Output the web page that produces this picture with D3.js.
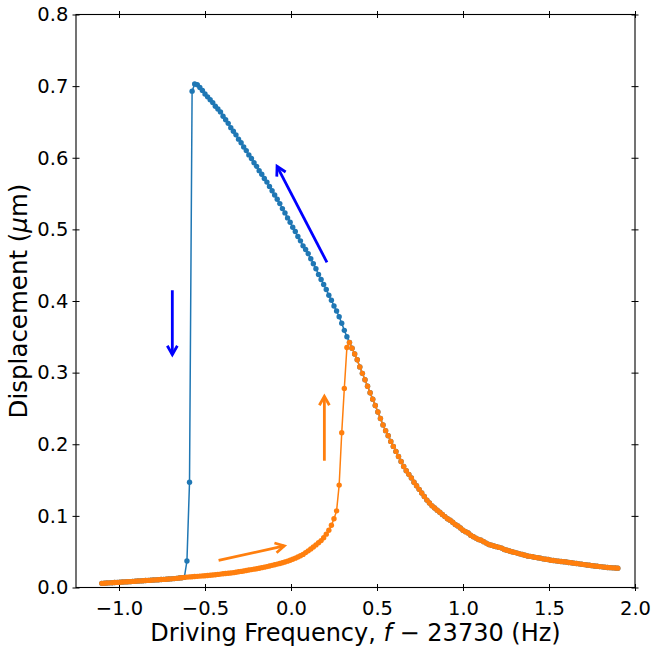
<!DOCTYPE html>
<html>
<head>
<meta charset="utf-8">
<script src="https://cdn.jsdelivr.net/npm/d3@7"></script>
<style>
  body { margin: 0; background: #fff; }
  text { font-family: "DejaVu Sans", sans-serif; }
</style>
</head>
<body>
<script>
// driving frequency, f - 23730 (Hz)
const freq = [
  -1.1, -1.085, -1.07, -1.055, -1.04, -1.025, -1.01, -0.995, -0.98, -0.965,
  -0.95, -0.935, -0.92, -0.905, -0.89, -0.875, -0.86, -0.845, -0.83, -0.815,
  -0.8, -0.785, -0.77, -0.755, -0.74, -0.725, -0.71, -0.695, -0.68, -0.665,
  -0.65, -0.635, -0.62, -0.605, -0.59, -0.575, -0.56, -0.545, -0.53, -0.515,
  -0.5, -0.485, -0.47, -0.455, -0.44, -0.425, -0.41, -0.395, -0.38, -0.365,
  -0.35, -0.335, -0.32, -0.305, -0.29, -0.275, -0.26, -0.245, -0.23, -0.215,
  -0.2, -0.185, -0.17, -0.155, -0.14, -0.125, -0.11, -0.095, -0.08, -0.065,
  -0.05, -0.035, -0.02, -0.005, 0.01, 0.025, 0.04, 0.055, 0.07, 0.085,
  0.1, 0.115, 0.13, 0.145, 0.16, 0.175, 0.19, 0.205, 0.22, 0.235,
  0.25, 0.265, 0.28, 0.295, 0.31, 0.325, 0.34, 0.355, 0.37, 0.385,
  0.4, 0.415, 0.43, 0.445, 0.46, 0.475, 0.49, 0.505, 0.52, 0.535,
  0.55, 0.565, 0.58, 0.595, 0.61, 0.625, 0.64, 0.655, 0.67, 0.685,
  0.7, 0.715, 0.73, 0.745, 0.76, 0.775, 0.79, 0.805, 0.82, 0.835,
  0.85, 0.865, 0.88, 0.895, 0.91, 0.925, 0.94, 0.955, 0.97, 0.985,
  1.0, 1.015, 1.03, 1.045, 1.06, 1.075, 1.09, 1.105, 1.12, 1.135,
  1.15, 1.165, 1.18, 1.195, 1.21, 1.225, 1.24, 1.255, 1.27, 1.285,
  1.3, 1.315, 1.33, 1.345, 1.36, 1.375, 1.39, 1.405, 1.42, 1.435,
  1.45, 1.465, 1.48, 1.495, 1.51, 1.525, 1.54, 1.555, 1.57, 1.585,
  1.6, 1.615, 1.63, 1.645, 1.66, 1.675, 1.69, 1.705, 1.72, 1.735,
  1.75, 1.765, 1.78, 1.795, 1.81, 1.825, 1.84, 1.855, 1.87, 1.885,
  1.9
];

// downward sweep (um), listed in order of increasing frequency
const blueDisp = [
  0.0058, 0.0060, 0.0062, 0.0065, 0.0067, 0.0069, 0.0071, 0.0073, 0.0076, 0.0078,
  0.0080, 0.0082, 0.0085, 0.0087, 0.0090, 0.0092, 0.0094, 0.0097, 0.0099, 0.0102,
  0.0104, 0.0106, 0.0109, 0.0111, 0.0113, 0.0116, 0.0118, 0.0121, 0.0124, 0.0128,
  0.0132, 0.0137, 0.0142,
  0.037, 0.147, 0.693,
  0.703, 0.702, 0.698, 0.694,
  0.689, 0.685, 0.681, 0.677, 0.672, 0.668, 0.664, 0.658, 0.653, 0.648,
  0.642, 0.637, 0.632, 0.626, 0.621, 0.615, 0.610, 0.604, 0.599, 0.593,
  0.588, 0.582, 0.577, 0.571, 0.566, 0.560, 0.554, 0.548, 0.542, 0.536,
  0.529, 0.523, 0.516, 0.510, 0.503, 0.497, 0.490, 0.484, 0.477, 0.472,
  0.466, 0.459, 0.452, 0.445, 0.437, 0.430, 0.423, 0.416, 0.408, 0.401,
  0.393, 0.386, 0.378, 0.369, 0.359, 0.350, 0.342, 0.334, 0.326, 0.318,
  0.308, 0.299, 0.290, 0.281, 0.272, 0.263, 0.254, 0.245, 0.236, 0.227,
  0.219, 0.212, 0.204, 0.197, 0.190, 0.183, 0.176, 0.169, 0.163, 0.158,
  0.153, 0.147, 0.142, 0.137, 0.132, 0.127, 0.122, 0.118, 0.114, 0.111,
  0.108, 0.105, 0.102, 0.099, 0.096, 0.094, 0.091, 0.088, 0.086, 0.083,
  0.080, 0.078, 0.076, 0.073, 0.071, 0.069, 0.067, 0.066, 0.064, 0.062,
  0.060, 0.059, 0.058, 0.057, 0.056, 0.055, 0.053, 0.052, 0.051, 0.050,
  0.049, 0.048, 0.047, 0.046, 0.045, 0.044, 0.0435, 0.043, 0.042, 0.0415,
  0.041, 0.040, 0.0395, 0.039, 0.038, 0.0376, 0.0372, 0.0368, 0.0364, 0.036,
  0.0355, 0.035, 0.0345, 0.034, 0.0335, 0.033, 0.0325, 0.032, 0.0315, 0.031,
  0.0305, 0.030, 0.0296, 0.0292, 0.0288, 0.0284, 0.028, 0.0277, 0.0274, 0.0272,
  0.027
];

// upward sweep (um)
const orangeDisp = [
  0.0058, 0.0060, 0.0062, 0.0065, 0.0067, 0.0069, 0.0071, 0.0073, 0.0076, 0.0078,
  0.0080, 0.0082, 0.0085, 0.0087, 0.0090, 0.0092, 0.0094, 0.0097, 0.0099, 0.0102,
  0.0104, 0.0106, 0.0109, 0.0111, 0.0113, 0.0116, 0.0118, 0.0121, 0.0124, 0.0128,
  0.0132, 0.0137, 0.0142, 0.0145, 0.0148, 0.0151, 0.0154, 0.0156, 0.0159, 0.0162,
  0.0165, 0.0168, 0.0172, 0.0175, 0.0179, 0.0183, 0.0187, 0.0191, 0.0195, 0.0198,
  0.0202, 0.0207, 0.0213, 0.0219, 0.0225, 0.0231, 0.0238, 0.0244, 0.0250, 0.0256,
  0.0262, 0.0269, 0.0277, 0.0284, 0.0292, 0.0300, 0.0309, 0.0318, 0.0327, 0.0336,
  0.0345, 0.0356, 0.0368, 0.0381, 0.0395, 0.0410, 0.0426, 0.0443, 0.0462, 0.0487,
  0.0512, 0.0538, 0.0565, 0.0595, 0.0625, 0.0655, 0.0695, 0.0745, 0.0800,
  0.087, 0.096, 0.107, 0.143, 0.216, 0.278, 0.335, 0.342,
  0.334, 0.326, 0.318,
  0.308, 0.299, 0.290, 0.281, 0.272, 0.263, 0.254, 0.245, 0.236, 0.227,
  0.219, 0.212, 0.204, 0.197, 0.190, 0.183, 0.176, 0.169, 0.163, 0.158,
  0.153, 0.147, 0.142, 0.137, 0.132, 0.127, 0.122, 0.118, 0.114, 0.111,
  0.108, 0.105, 0.102, 0.099, 0.096, 0.094, 0.091, 0.088, 0.086, 0.083,
  0.080, 0.078, 0.076, 0.073, 0.071, 0.069, 0.067, 0.066, 0.064, 0.062,
  0.060, 0.059, 0.058, 0.057, 0.056, 0.055, 0.053, 0.052, 0.051, 0.050,
  0.049, 0.048, 0.047, 0.046, 0.045, 0.044, 0.0435, 0.043, 0.042, 0.0415,
  0.041, 0.040, 0.0395, 0.039, 0.038, 0.0376, 0.0372, 0.0368, 0.0364, 0.036,
  0.0355, 0.035, 0.0345, 0.034, 0.0335, 0.033, 0.0325, 0.032, 0.0315, 0.031,
  0.0305, 0.030, 0.0296, 0.0292, 0.0288, 0.0284, 0.028, 0.0277, 0.0274, 0.0272,
  0.027
];

const xTicks = [-1.0, -0.5, 0.0, 0.5, 1.0, 1.5, 2.0];
const yTicks = [0.0, 0.1, 0.2, 0.3, 0.4, 0.5, 0.6, 0.7, 0.8];

// sweep-direction arrows, [tail, head] in data units
const arrowBlueUp = [[0.209, 0.454], [-0.081, 0.588]];
const arrowBlueDown = [[-0.69, 0.415], [-0.69, 0.325]];
const arrowOrangeUp = [[0.194, 0.177], [0.194, 0.267]];
const arrowOrangeRight = [[-0.421, 0.038], [-0.039, 0.058]];

// figure layout
const W = 651, H = 648;
const pl = 76, pr = 635, pt = 14.5, pb = 587.5;
const tickLen = 3.5;

const x = d3.scaleLinear().domain([-1.25, 2.0]).range([pl, pr]);
const y = d3.scaleLinear().domain([0, 0.8]).range([pb, pt]);

const svg = d3.select('body').append('svg')
  .attr('width', W)
  .attr('height', H);

const fmt = d3.format('.1f');

function crossTicks(g, horiz) {
  g.select('.domain').remove();
  g.selectAll('.tick line')
    .attr(horiz ? 'y1' : 'x1', -tickLen)
    .attr(horiz ? 'y2' : 'x2', tickLen)
    .attr('stroke', '#000');
  g.selectAll('.tick text')
    .attr('fill', '#000')
    .style('font-size', '19.5px');
}

svg.append('g')
  .attr('transform', `translate(0,${pb})`)
  .call(d3.axisBottom(x).tickValues(xTicks).tickFormat(fmt).tickSize(tickLen).tickPadding(10.5))
  .call(g => crossTicks(g, true));

svg.append('g')
  .attr('transform', `translate(0,${pt})`)
  .call(d3.axisTop(x).tickValues(xTicks).tickFormat('').tickSize(tickLen))
  .call(g => crossTicks(g, true));

svg.append('g')
  .attr('transform', `translate(${pl},0)`)
  .call(d3.axisLeft(y).tickValues(yTicks).tickFormat(fmt).tickSize(tickLen).tickPadding(4.2))
  .call(g => crossTicks(g, false));

svg.append('g')
  .attr('transform', `translate(${pr},0)`)
  .call(d3.axisRight(y).tickValues(yTicks).tickFormat('').tickSize(tickLen))
  .call(g => crossTicks(g, false));

// frame
svg.append('rect')
  .attr('x', pl)
  .attr('y', pt)
  .attr('width', pr - pl)
  .attr('height', pb - pt)
  .attr('fill', 'none')
  .attr('stroke', '#000')
  .attr('stroke-width', 1.1);

function drawSeries(vals, color) {
  const pts = vals.map((v, i) => [freq[i], v]);
  const line = d3.line().x(d => x(d[0])).y(d => y(d[1]));
  svg.append('path')
    .datum(pts)
    .attr('d', line)
    .attr('fill', 'none')
    .attr('stroke', color)
    .attr('stroke-width', 1.5);
  svg.append('g')
    .selectAll('circle')
    .data(pts)
    .enter()
    .append('circle')
    .attr('cx', d => x(d[0]))
    .attr('cy', d => y(d[1]))
    .attr('r', 2.7)
    .attr('fill', color);
}

drawSeries(blueDisp, '#1f77b4');
drawSeries(orangeDisp, '#ff7f0e');

function drawArrow(a, color) {
  const x0 = x(a[0][0]), y0 = y(a[0][1]);
  const x1 = x(a[1][0]), y1 = y(a[1][1]);
  const ang = Math.atan2(y1 - y0, x1 - x0);
  const hl = 9, hw = 5;
  const bx = x1 - hl * Math.cos(ang), by = y1 - hl * Math.sin(ang);
  const px = -Math.sin(ang) * hw, py = Math.cos(ang) * hw;
  svg.append('line')
    .attr('x1', x0).attr('y1', y0)
    .attr('x2', x1).attr('y2', y1)
    .attr('stroke', color)
    .attr('stroke-width', 2.8);
  svg.append('path')
    .attr('d', `M${bx + px},${by + py}L${x1},${y1}L${bx - px},${by - py}`)
    .attr('fill', 'none')
    .attr('stroke', color)
    .attr('stroke-width', 2.8);
}

drawArrow(arrowBlueUp, '#0000ff');
drawArrow(arrowBlueDown, '#0000ff');
drawArrow(arrowOrangeUp, '#ff7f0e');
drawArrow(arrowOrangeRight, '#ff7f0e');

// axis labels
const xl = svg.append('text')
  .attr('x', (pl + pr) / 2)
  .attr('y', 641)
  .attr('text-anchor', 'middle')
  .style('font-size', '24px');
xl.append('tspan').text('Driving Frequency, ');
xl.append('tspan').style('font-style', 'italic').text('f');
xl.append('tspan').text(' \u2212 23730 (Hz)');

const yl = svg.append('text')
  .attr('transform', `translate(27,${(pt + pb) / 2}) rotate(-90)`)
  .attr('text-anchor', 'middle')
  .style('font-size', '24.5px');
yl.append('tspan').text('Displacement (');
yl.append('tspan').style('font-style', 'italic').text('\u03bc');
yl.append('tspan').text('m)');
</script>
</body>
</html>
